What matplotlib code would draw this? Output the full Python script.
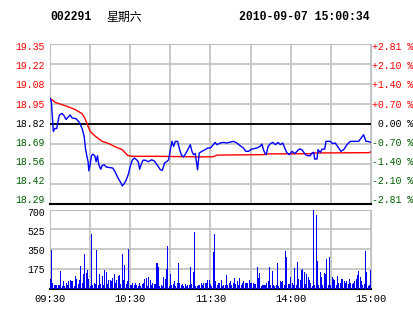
import numpy as np
import matplotlib.pyplot as plt
from matplotlib.transforms import offset_copy

plt.rcParams['font.family'] = ['Liberation Mono', 'DejaVu Sans Mono']

# header
code = '002291'
weekday = '星期六'
stamp = '2010-09-07 15:00:34'

# price scale
pre_close = 18.82
price_lo, price_hi = 18.29, 19.35
price_labels = ['19.35', '19.22', '19.08', '18.95', '18.82', '18.69', '18.56', '18.42', '18.29']
pct_labels = ['+2.81 %', '+2.10 %', '+1.40 %', '+0.70 %', '0.00 %',
              '-0.70 %', '-1.40 %', '-2.10 %', '-2.81 %']
vol_ticks = [700, 525, 350, 175]
time_ticks = [0, 60, 120, 180, 240]
time_labels = ['09:30', '10:30', '11:30', '14:00', '15:00']

# minute price (minutes since 09:30, lunch removed)
price_t = [0, 1, 2.5, 3.5, 5, 7, 9, 10.5, 12, 13.5, 15, 16.5, 19.5, 22, 24, 25.5,
           26.5, 27.5, 28.5, 29, 30, 31, 32, 33.5, 34.5, 35.5, 36.5, 38, 39, 40.5,
           42, 47, 48.5, 51, 53, 54, 55.5, 57, 58.5, 60, 61.5, 63, 64.5, 66, 67,
           68.5, 69.5, 71.5, 73.5, 76, 78, 80, 82.5, 84, 85.7, 87.4, 88.7, 90, 91.2,
           92.4, 93.7, 95.4, 96.6, 98.1, 99.9, 102.4, 104.9, 106.1, 107.3, 108.6,
           110.3, 111.6, 113.6, 116, 118, 120, 123.5, 124.8, 127.2, 129.7, 132.2,
           134.7, 137.2, 139.7, 142.2, 144.6, 146.4, 148.4, 150.9, 154.6, 157.1,
           158.4, 159.6, 160.6, 161.6, 163.1, 164.8, 166.6, 168.5, 170.5, 172.2,
           174, 175.5, 177.2, 179, 181, 183, 184.7, 186.4, 188.4, 190.4, 192.2,
           194.6, 195.9, 197.2, 197.9, 199.6, 200.4, 202.1, 203.4, 205.4, 206.3,
           209.6, 211.3, 213.3, 215.8, 217.5, 219.6, 222, 224.5, 230.7, 233.2,
           234.5, 236.2, 237.7, 240]
price_v = [18.99, 18.97, 18.77, 18.79, 18.79, 18.88, 18.89, 18.875, 18.85, 18.865,
           18.88, 18.86, 18.855, 18.83, 18.79, 18.74, 18.66, 18.61, 18.57, 18.51,
           18.55, 18.61, 18.62, 18.61, 18.57, 18.61, 18.55, 18.52, 18.545, 18.55,
           18.535, 18.528, 18.506, 18.46, 18.43, 18.41, 18.425, 18.45, 18.485,
           18.54, 18.58, 18.595, 18.585, 18.57, 18.52, 18.56, 18.58, 18.58, 18.57,
           18.583, 18.575, 18.55, 18.517, 18.513, 18.562, 18.572, 18.583, 18.65,
           18.705, 18.672, 18.705, 18.705, 18.661, 18.617, 18.601, 18.639, 18.683,
           18.639, 18.617, 18.624, 18.517, 18.628, 18.639, 18.65, 18.661, 18.661,
           18.698, 18.683, 18.694, 18.698, 18.694, 18.70, 18.705, 18.694, 18.676,
           18.661, 18.639, 18.639, 18.654, 18.661, 18.672, 18.687, 18.65, 18.628,
           18.617, 18.672, 18.69, 18.698, 18.683, 18.698, 18.683, 18.694, 18.661,
           18.628, 18.617, 18.639, 18.624, 18.639, 18.654, 18.65, 18.624, 18.61,
           18.61, 18.628, 18.632, 18.588, 18.588, 18.65, 18.632, 18.654, 18.654,
           18.705, 18.705, 18.69, 18.694, 18.661, 18.639, 18.65, 18.683, 18.705,
           18.705, 18.734, 18.749, 18.705, 18.705, 18.698]

# average price
avg_t = [0, 4, 9, 14, 19, 24, 26, 28, 30, 34, 39, 44, 49, 54, 58, 61, 80, 112,
         122, 125, 160, 162, 196, 197, 238, 240]
avg_v = [18.99, 18.963, 18.948, 18.933, 18.915, 18.888, 18.86, 18.815, 18.771,
         18.738, 18.705, 18.69, 18.668, 18.65, 18.612, 18.606, 18.606, 18.602,
         18.603, 18.614, 18.617, 18.622, 18.623, 18.628, 18.630, 18.635]

# volume per minute
vol_am = [83, 341, 53, 30, 30, 30, 30, 30, 154, 21, 65, 21, 45, 30, 65, 74, 65, 65,
          21, 110, 83, 39, 74, 199, 45, 128, 306, 140, 163, 83, 21, 484, 30, 53, 39,
          341, 30, 128, 39, 110, 30, 163, 148, 39, 74, 74, 65, 89, 128, 53, 74, 110,
          119, 39, 306, 74, 208, 39, 65, 350, 30, 30, 53, 30, 53, 30, 21, 45, 21, 39,
          45, 83, 89, 21, 101, 74, 30, 45, 39, 39, 223, 193, 21, 30, 21, 101, 83,
          169, 377, 21, 128, 30, 39, 65, 21, 53, 223, 53, 30, 39, 21, 39, 21, 30, 30,
          187, 39, 143, 499, 21, 21, 30, 30, 45, 30, 45, 45, 45, 74, 74]
vol_pm = [39, 21, 327, 484, 65, 30, 45, 53, 74, 21, 30, 30, 119, 30, 45, 65, 30, 53,
          95, 39, 65, 30, 95, 30, 53, 65, 45, 53, 45, 74, 53, 53, 45, 39, 39, 190, 95,
          137, 21, 30, 30, 30, 53, 65, 190, 30, 154, 30, 21, 30, 226, 21, 65, 59, 65,
          30, 333, 279, 39, 39, 101, 53, 30, 181, 30, 235, 83, 74, 163, 172, 145, 39,
          128, 101, 74, 48, 21, 692, 30, 653, 243, 30, 145, 101, 30, 137, 128, 261,
          30, 279, 30, 101, 83, 74, 30, 110, 53, 53, 83, 83, 65, 48, 65, 39, 83, 48,
          39, 45, 65, 83, 119, 154, 101, 65, 30, 39, 333, 145, 21, 30, 163]
volume = vol_am + vol_pm
minutes = np.arange(len(volume))

W, H = 414, 314
fig = plt.figure(figsize=(W / 100, H / 100), dpi=100)
red, green, grey = '#FF0000', '#006000', '#C0C0C0'
fs = 7.1

ax = fig.add_axes([50 / W, 1 - 204 / H, 321 / W, 160 / H])
av = fig.add_axes([50 / W, 1 - 288.5 / H, 321 / W, 79 / H])

# price panel
ax.set_xlim(0, 240)
ax.set_ylim(price_lo, price_hi)
yt = np.linspace(price_hi, price_lo, len(price_labels))
ax.set_yticks(yt)
ax.set_xticks([30 * i for i in range(9)])
ax.set_xticklabels([])
ax.set_yticklabels([])
ax.grid(True, color=grey, lw=1.2)
ax.tick_params(length=0)
for s in ax.spines.values():
    s.set_color(grey)
ax.axhline(pre_close, color='black', lw=1.3, zorder=3)
ax.spines['bottom'].set_color('black')
ax.spines['bottom'].set_linewidth(1.5)
ax.plot(avg_t, avg_v, color=red, lw=1.0, zorder=4)
ax.plot(price_t, price_v, color='#0000FF', lw=1.0, zorder=5)

# labels sit slightly inside the range: top one lower, bottom one higher
n = len(price_labels)
for k, (v, lab, pct) in enumerate(zip(yt, price_labels, pct_labels)):
    if abs(v - pre_close) < 1e-6:
        c = 'black'
    elif v > pre_close:
        c = red
    else:
        c = green
    dy = -3 + 6.6 * k / (n - 1)
    ltr = offset_copy(ax.get_yaxis_transform(), fig=fig, x=-5, y=dy, units='dots')
    rtr = offset_copy(ax.get_yaxis_transform(), fig=fig, x=1, y=dy, units='dots')
    ax.text(0, v, lab, transform=ltr, ha='right', va='center', fontsize=fs, color=c)
    ax.text(1, v, pct if pct[0] in '+-' else ' ' + pct, transform=rtr,
            ha='left', va='center', fontsize=fs, color=c)

# volume panel
av.bar(minutes, volume, width=0.75, color='#0000FF', lw=0, zorder=3)
av.set_xlim(0, 240)
av.set_ylim(0, 700)
av.set_yticks(vol_ticks)
av.set_yticklabels([])
av.set_xticks([30 * i for i in range(9)])
av.set_xticklabels([])
av.grid(True, color=grey, lw=1.2)
av.tick_params(length=0)
for s in av.spines.values():
    s.set_color(grey)
av.spines['bottom'].set_color('black')
av.spines['bottom'].set_linewidth(1.5)

for k, v in enumerate(vol_ticks):
    vtr = offset_copy(av.get_yaxis_transform(), fig=fig, x=-5, y=-4 + 0.9 * k, units='dots')
    av.text(0, v, str(v), transform=vtr, ha='right', va='center', fontsize=fs)
time_tr = offset_copy(av.get_xaxis_transform(), fig=fig, x=0, y=-10.5, units='dots')
for t, lab in zip(time_ticks, time_labels):
    av.text(t, 0, lab, transform=time_tr, ha='center', va='center', fontsize=7.6)

fig.text(50 / W, 1 - 17 / H, code, fontsize=8.3, fontweight='bold', va='center')
fig.text(106 / W, 1 - 17 / H, weekday, fontsize=8.6, va='center',
         family=['Noto Sans CJK SC', 'DejaVu Sans'])
fig.text(370 / W, 1 - 17 / H, stamp, fontsize=8.3, fontweight='bold', va='center', ha='right')

fig.savefig('out.png', dpi=100)
